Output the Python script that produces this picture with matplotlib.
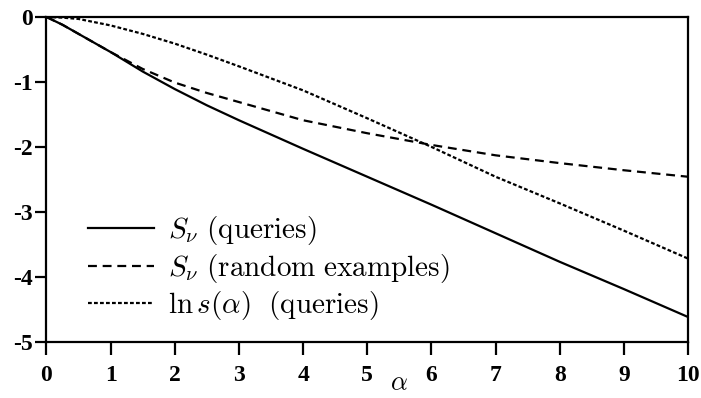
import matplotlib
matplotlib.use('Agg')
import matplotlib.pyplot as plt

# values
alpha = [0, 0.25, 0.5, 1, 1.5, 2, 2.5, 3, 4, 5, 6, 7, 8, 9, 10]
sv_queries = [0, -0.12, -0.26, -0.54, -0.84, -1.11, -1.36, -1.59, -2.03, -2.46, -2.89, -3.33, -3.77, -4.19, -4.62]
sv_random = [0, -0.12, -0.26, -0.54, -0.80, -1.01, -1.17, -1.31, -1.59, -1.79, -1.97, -2.13, -2.25, -2.36, -2.46]
ln_s_queries = [0, -0.01, -0.03, -0.13, -0.26, -0.41, -0.58, -0.76, -1.13, -1.56, -2.00, -2.46, -2.87, -3.29, -3.72]
labels = [r"$S_\nu\ \mathrm{(queries)}$",
          r"$S_\nu\ \mathrm{(random\ examples)}$",
          r"$\ln s(\alpha)\ \ \mathrm{(queries)}$"]
xticks = list(range(0, 11))
yticks = [0, -1, -2, -3, -4, -5]

plt.rcParams['mathtext.fontset'] = 'cm'
plt.rcParams['axes.unicode_minus'] = False

fig = plt.figure(figsize=(7.01, 3.98), dpi=100)
ax = fig.add_axes([0.0663, 0.1415, 0.9152, 0.8158])

ax.plot(alpha, sv_queries, color='black', lw=1.6, label=labels[0])
ax.plot(alpha, sv_random, color='black', lw=1.6, dashes=(4, 2.6), label=labels[1])
ax.plot(alpha, ln_s_queries, color='black', lw=1.6, dashes=(1.7, 1.0), label=labels[2])

ax.set_xlim(0, 10); ax.set_ylim(-5, 0)
ax.set_xticks(xticks); ax.set_yticks(yticks)
ax.set_xticklabels([str(t) for t in xticks])
ax.set_yticklabels([str(t) for t in yticks])
for lab in ax.get_xticklabels() + ax.get_yticklabels():
    lab.set_family('Liberation Serif'); lab.set_fontsize(17); lab.set_fontweight('bold')
ax.tick_params(axis='x', direction='out', length=9, width=1.6, pad=8)
ax.tick_params(axis='y', direction='out', length=8, width=1.6, pad=2)
for sp in ax.spines.values():
    sp.set_linewidth(1.6)

ax.text(5.5, -5.64, r"$\alpha$", fontsize=19, ha='center', va='center')

leg = ax.legend(loc='lower left', bbox_to_anchor=(0.065, 0.06), frameon=False, fontsize=21,
                handlelength=2.25, handletextpad=0.48, labelspacing=0.15, borderaxespad=0,
                borderpad=0)

fig.savefig('out.png', dpi=100, facecolor='white')
